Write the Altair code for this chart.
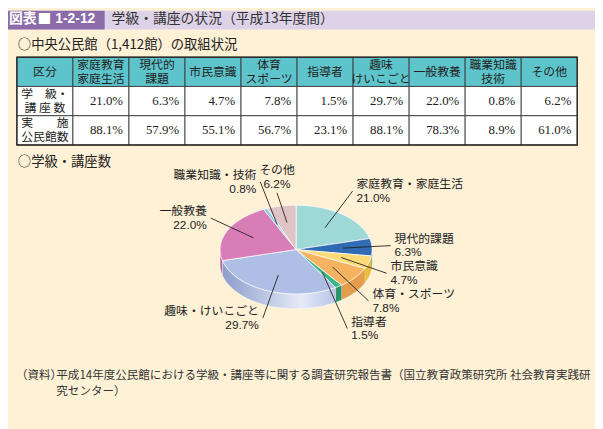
import altair as alt
import pandas as pd

# ---------------- data ----------------
categories = ["家庭教育・家庭生活", "現代的課題", "市民意識", "体育・スポーツ", "指導者",
              "趣味・けいこごと", "一般教養", "職業知識・技術", "その他"]
table_headers = ["家庭教育\n家庭生活", "現代的\n課題", "市民意識", "体育\nスポーツ", "指導者",
                 "趣味\nけいこごと", "一般教養", "職業知識\n技術", "その他"]
corner_header = "区分"
row_labels = ["学　級・\n講 座 数", "実　　施\n公民館数"]
course_share = [21.0, 6.3, 4.7, 7.8, 1.5, 29.7, 22.0, 0.8, 6.2]
hall_share = [88.1, 57.9, 55.1, 56.7, 23.1, 88.1, 78.3, 8.9, 61.0]

fig_tag = "図表"
fig_number = "1-2-12"
title_text = "学級・講座の状況（平成13年度間）"
subtitle_table = "○中央公民館（1,412館）の取組状況"
subtitle_pie = "○学級・講座数"
source_head = "（資料）"
source_lines = ["平成14年度公民館における学級・講座等に関する調査研究報告書（国立教育政策研究所 社会教育実践研",
                "究センター）"]

# ---------------- styles ----------------
BG = "#FEF1D6"
W = 595
JP = "Noto Sans CJK JP"
SANS = "Liberation Sans, Noto Sans CJK JP"
SERIF = "Liberation Serif, DejaVu Serif, Noto Sans CJK JP"
TEAL = "#5EC4CB"
pie_colors = ["#9FD9D7", "#2F6CB4", "#FADB78", "#F5B261", "#3BB58A",
              "#AFBEE4", "#D87DB6", "#8CCAEA", "#DEC4C2"]
side_colors = ["#7FBDBB", "#22548F", "#E9BE3A", "#E39D4C", "#2A9469",
               "#9AA9D6", "#BC5E98", "#6AAAC9", "#C4A6A4"]
MULTI = "indexof(datum.txt, '\\n') >= 0"


def txt(text, x, y, **kw):
    return alt.Chart(pd.DataFrame({"t": [text]})).mark_text(
        align=kw.pop("align", "left"), baseline="middle", **kw
    ).encode(x=alt.value(x), y=alt.value(y), text="t:N")


one = pd.DataFrame({"k": [0]})

# ---------------- panel A: header ----------------
band = alt.Chart(one).mark_rect(color="#DDD2E8").encode(
    x=alt.value(0), x2=alt.value(W), y=alt.value(0), y2=alt.value(19))
box = alt.Chart(one).mark_rect(color="#8B6CA9").encode(
    x=alt.value(0), x2=alt.value(98), y=alt.value(0), y2=alt.value(19))
header = alt.layer(
    band, box,
    txt(fig_tag, 1, 8, font=JP, fontSize=14, fontWeight="bold", color="white"),
    txt("■", 30, 8, font=JP, fontSize=14, color="white"),
    txt(fig_number, 48, 8, font="Liberation Sans", fontSize=14, fontWeight="bold", color="white"),
    txt(title_text, 105, 8, font=JP, fontSize=14, color="#333333"),
    txt(subtitle_table, 10, 35, font=JP, fontSize=13.5, color="#222222"),
).properties(width=W, height=47)

# ---------------- panel B: table ----------------
cells = [dict(r=0, c=0, kind="head", txt=corner_header)]
for i, h in enumerate(table_headers):
    cells.append(dict(r=0, c=i + 1, kind="head", txt=h))
for r, (lab, vals) in enumerate(zip(row_labels, [course_share, hall_share]), start=1):
    cells.append(dict(r=r, c=0, kind="label", txt=lab))
    for i, v in enumerate(vals):
        cells.append(dict(r=r, c=i + 1, kind="val", txt=f"{v:.1f}%"))
cells_df = pd.DataFrame(cells)

xs = alt.Scale(range=[9, 577], paddingInner=0, paddingOuter=0)
ys = alt.Scale(range=[0, 89], paddingInner=0, paddingOuter=0)
XT = alt.X("c:O", scale=xs, axis=None)
YT = alt.Y("r:O", scale=ys, axis=None)
tbase = alt.Chart(cells_df)
rects = tbase.mark_rect(stroke="#3A3A3A", strokeWidth=0.9).encode(
    x=XT, y=YT,
    fill=alt.Fill("kind:N", scale=alt.Scale(domain=["head", "label", "val"],
                                            range=[TEAL, "white", "white"]), legend=None),
)
outline = alt.Chart(one).mark_rect(filled=False, stroke="#2A2A2A", strokeWidth=1.4).encode(
    x=alt.value(9), x2=alt.value(577), y=alt.value(0), y2=alt.value(89))
head1 = tbase.transform_filter(f"datum.kind == 'head' && !({MULTI})").mark_text(
    font=JP, fontSize=12, color="#222222", baseline="middle"
).encode(x=XT, y=YT, text="txt:N")
head2 = tbase.transform_filter(f"datum.kind == 'head' && ({MULTI})").mark_text(
    font=JP, fontSize=12, lineBreak="\n", lineHeight=14, dy=-7, color="#222222", baseline="middle"
).encode(x=XT, y=YT, text="txt:N")
lab_txt = tbase.transform_filter("datum.kind == 'label'").mark_text(
    font=JP, fontSize=12, lineBreak="\n", lineHeight=14, dy=-7, color="#222222", baseline="middle"
).encode(x=XT, y=YT, text="txt:N")
val_txt = tbase.transform_filter("datum.kind == 'val'").mark_text(
    font=SERIF, fontSize=13, color="#222222", align="right", dx=-6, baseline="middle"
).encode(x=alt.X("c:O", scale=xs, axis=None, bandPosition=1), y=YT, text="txt:N")
table = alt.layer(rects, outline, head1, head2, lab_txt, val_txt).properties(width=W, height=89)

# ---------------- panel C: pie ----------------
PH = 216
CX, CY, RX, RY, DEPTH, N = 292, 106, 77, 45, 15, 60
LX, LY, GAP = 100, 75, 28
pie_df = pd.DataFrame({"cat": categories, "val": course_share, "idx": list(range(len(categories)))})
xsc = alt.Scale(domain=[0, W], nice=False, zero=False)
ysc = alt.Scale(domain=[0, PH], nice=False, zero=False, reverse=True)


def X(f):
    return alt.X(f, scale=xsc, axis=None)


def Y(f):
    return alt.Y(f, scale=ysc, axis=None)


pbase = alt.Chart(pie_df).transform_joinaggregate(total="sum(val)").transform_window(
    cum="sum(val)", sort=[alt.SortField("idx")], frame=[None, 0]
).transform_calculate(
    a0="(datum.cum - datum.val) / datum.total * 2 * PI",
    a1="datum.cum / datum.total * 2 * PI",
)

tops = pbase.transform_calculate(ks=f"sequence(0, {N + 3})").transform_flatten(
    ["ks"], as_=["k"]
).transform_calculate(
    ang=f"datum.a0 + (datum.k - 1) / {N} * (datum.a1 - datum.a0)",
    px=f"(datum.k == 0 || datum.k == {N + 2}) ? {CX} : {CX} + {RX} * sin(datum.ang)",
    py=f"(datum.k == 0 || datum.k == {N + 2}) ? {CY} : {CY} - {RY} * cos(datum.ang)",
).mark_line(filled=True, stroke="white", strokeWidth=0.7, strokeJoin="round").encode(
    x=X("px:Q"), y=Y("py:Q"), order="k:Q", detail="cat:N",
    fill=alt.Fill("cat:N", scale=alt.Scale(domain=categories, range=pie_colors), legend=None),
)

side_base = pbase.transform_calculate(
    b0="max(datum.a0, PI / 2)", b1="min(datum.a1, 3 * PI / 2)"
).transform_filter("datum.b1 > datum.b0").transform_calculate(
    ks=f"sequence(0, {2 * N + 2})"
).transform_flatten(["ks"], as_=["k"]).transform_calculate(
    ang=f"datum.k <= {N} ? datum.b0 + datum.k / {N} * (datum.b1 - datum.b0) : datum.b1 - (datum.k - {N + 1}) / {N} * (datum.b1 - datum.b0)",
    px=f"{CX} + {RX} * sin(datum.ang)",
    py=f"{CY} - {RY} * cos(datum.ang) + (datum.k <= {N} ? 0 : {DEPTH})",
)
sides = side_base.transform_filter(
    "datum.cat != '趣味・けいこごと'"
).mark_line(filled=True, stroke="white", strokeWidth=0.4).encode(
    x=X("px:Q"), y=Y("py:Q"), order="k:Q", detail="cat:N",
    fill=alt.Fill("cat:N", scale=alt.Scale(domain=categories, range=side_colors), legend=None),
)
hobby_side = side_base.transform_filter(
    "datum.cat == '趣味・けいこごと'"
).mark_line(
    filled=True, stroke="white", strokeWidth=0.4,
    fill=alt.Gradient(gradient="linear", x1=0, x2=1, y1=0, y2=0, stops=[
        alt.GradientStop(offset=0, color="#8E9DCC"),
        alt.GradientStop(offset=0.7, color="#E4EAF7"),
        alt.GradientStop(offset=1, color="#B8C4E6"),
    ]),
).encode(x=X("px:Q"), y=Y("py:Q"), order="k:Q", detail="cat:N")

lab_base = pbase.transform_calculate(
    mid="(datum.a0 + datum.a1) / 2",
).transform_calculate(
    s="sin(datum.mid)", c="cos(datum.mid)",
).transform_calculate(
    grp="datum.s > 0.3 ? 'R' : (datum.s < -0.3 ? 'L' : 'C')",
    xl=f"{CX} + {LX} * datum.s",
    yl0=f"{CY} - {LY} * datum.c",
    sx=f"{CX} + 0.62 * {RX} * datum.s",
    sy=f"{CY} - 0.62 * {RY} * datum.c",
    label="datum.cat + '\\n' + format(datum.val, '.1f') + '%'",
).transform_window(
    rn="row_number()", groupby=["grp"], sort=[alt.SortField("mid")]
).transform_calculate(
    z=f"datum.yl0 - {GAP} * (datum.rn - 1)"
).transform_window(
    zmax="max(z)", groupby=["grp"], sort=[alt.SortField("mid")], frame=[None, 0]
).transform_calculate(
    yl=f"datum.grp == 'R' ? datum.zmax + {GAP} * (datum.rn - 1) : datum.yl0",
).transform_calculate(
    ex="datum.grp == 'R' ? datum.xl - 4 : (datum.grp == 'L' ? datum.xl + 4 : datum.xl)",
    ey="datum.grp == 'C' ? datum.yl + 16 : datum.yl",
)

leaders = lab_base.mark_rule(color="#222222", strokeWidth=0.9).encode(
    x=X("sx:Q"), y=Y("sy:Q"), x2="ex:Q", y2="ey:Q")


def lab_layer(g, align):
    return lab_base.transform_filter(f"datum.grp == '{g}'").mark_text(
        align=align, baseline="middle", lineBreak="\n", lineHeight=14, dy=-7,
        font=SANS, fontSize=12, color="#222222",
    ).encode(x=X("xl:Q"), y=Y("yl:Q"), text="label:N")


pie = alt.layer(
    sides, hobby_side, tops, leaders,
    lab_layer("R", "left"), lab_layer("L", "right"), lab_layer("C", "center"),
    txt(subtitle_pie, 10, 17, font=JP, fontSize=13.5, color="#222222"),
).resolve_scale(fill="independent").properties(width=W, height=PH)

# ---------------- panel D: source ----------------
source = alt.layer(
    txt(source_head, 8, 17, font=JP, fontSize=11.7, color="#333333"),
    txt(source_lines[0], 49, 17, font=JP, fontSize=11.7, color="#333333"),
    txt(source_lines[1], 49, 33, font=JP, fontSize=11.7, color="#333333"),
).properties(width=W, height=69)

chart = alt.vconcat(header, table, pie, source, spacing=0, bounds="flush").properties(
    padding=0
).configure(background=BG).configure_view(stroke=None)

chart.save("out.html", embed_options={"renderer": "svg", "actions": False})
